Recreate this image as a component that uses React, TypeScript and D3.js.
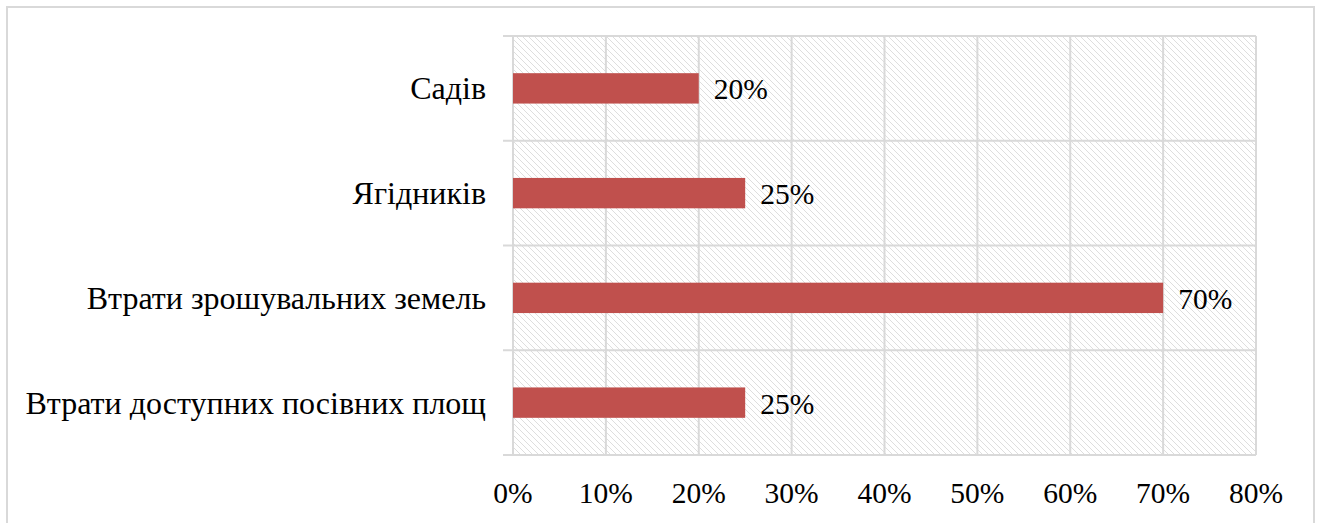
import React from "react";
import * as d3 from "d3";

const categories = [
  "Садів",
  "Ягідників",
  "Втрати зрошувальних земель",
  "Втрати доступних посівних площ",
];
const values = [20, 25, 70, 25];
const xTicks = [0, 10, 20, 30, 40, 50, 60, 70, 80];

const W = 1323;
const H = 523;
const margin = { left: 513, right: W - 1256, top: 36, bottom: H - 455 };

export default function App() {
  const x = d3.scaleLinear().domain([0, 80]).range([margin.left, W - margin.right]);
  const y = d3
    .scaleBand<string>()
    .domain(categories)
    .range([margin.top, H - margin.bottom])
    .paddingInner(0)
    .paddingOuter(0);
  const bw = y.bandwidth();
  const barH = bw * 0.29;
  const font = "Liberation Serif, Times New Roman, serif";
  const grid = "#d9d9d9";
  const boundaries = categories.map((c) => y(c)!).concat([H - margin.bottom]);

  return (
    <svg
      width={W}
      height={H}
      style={{ position: "absolute", left: 0, top: 0, background: "#fff" }}
    >
      <defs>
        <pattern id="hatch" width="6" height="6" patternUnits="userSpaceOnUse">
          <path d="M0,0 L6,6 M-1,5 L1,7 M5,-1 L7,1" stroke="#dedede" strokeWidth="1" />
        </pattern>
      </defs>
      <rect x={7} y={7} width={1307} height={530} fill="#fff" stroke={grid} strokeWidth={2} />
      <rect
        x={x(0)}
        y={margin.top}
        width={x(80) - x(0)}
        height={H - margin.bottom - margin.top}
        fill="url(#hatch)"
      />
      {xTicks.map((t) => (
        <line key={"v" + t} x1={x(t)} x2={x(t)} y1={margin.top} y2={H - margin.bottom} stroke={grid} strokeWidth={2} />
      ))}
      {boundaries.map((b, i) => (
        <line key={"h" + i} x1={x(0) - 10} x2={x(80)} y1={b} y2={b} stroke={grid} strokeWidth={2} />
      ))}
      {categories.map((c, i) => {
        const cy = y(c)! + bw / 2;
        return (
          <g key={c}>
            <rect x={x(0)} y={cy - barH / 2} width={x(values[i]) - x(0)} height={barH} fill="#c0504d" />
            <text x={x(values[i]) + 15} y={cy + 11} fontFamily={font} fontSize={29.5} fill="#000">
              {values[i]}%
            </text>
            <text x={486} y={cy + 11} textAnchor="end" fontFamily={font} fontSize={32} fill="#000">
              {c}
            </text>
          </g>
        );
      })}
      {xTicks.map((t) => (
        <text key={"t" + t} x={x(t)} y={503} textAnchor="middle" fontFamily={font} fontSize={29.5} fill="#000">
          {t}%
        </text>
      ))}
    </svg>
  );
}
